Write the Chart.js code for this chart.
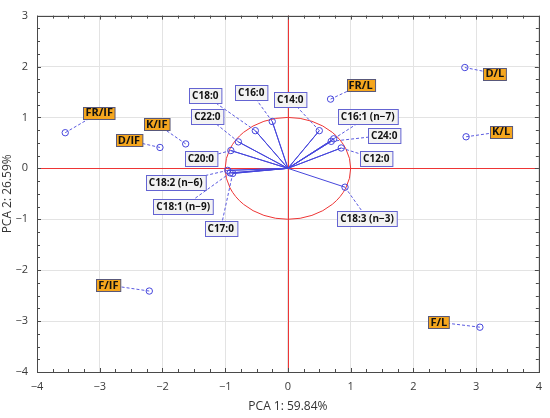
<!DOCTYPE html>
<html>
<head>
<meta charset="utf-8">
<script src="https://cdn.jsdelivr.net/npm/chart.js@4/dist/chart.umd.min.js"></script>
<style>
  body { margin: 0; background: #fff; }
  #wrap { width: 550px; height: 418px; }
</style>
</head>
<body>
<div id="wrap"><canvas id="pca" width="550" height="418"></canvas></div>
<script>
// case scores
const scoreNames = ['FR/IF', 'K/IF', 'D/IF', 'F/IF', 'FR/L', 'D/L', 'K/L', 'F/L'];
const scoreX = [-3.55, -1.63, -2.04, -2.21, 0.68, 2.82, 2.84, 3.06];
const scoreY = [0.70, 0.48, 0.41, -2.41, 1.36, 1.98, 0.62, -3.12];

// variable loadings
const varNames = ['C18:0', 'C16:0', 'C14:0', 'C22:0', 'C20:0', 'C16:1 (n\u22127)', 'C24:0', 'C12:0',
  'C18:2 (n\u22126)', 'C18:1 (n\u22129)', 'C17:0', 'C18:3 (n\u22123)'];
const varX = [-0.52, -0.25, 0.50, -0.79, -0.91, 0.73, 0.69, 0.85, -0.96, -0.92, -0.88, 0.91];
const varY = [0.74, 0.92, 0.74, 0.52, 0.35, 0.58, 0.53, 0.40, -0.04, -0.09, -0.10, -0.37];

const xTicks = [-4, -3, -2, -1, 0, 1, 2, 3, 4];
const yTicks = [-4, -3, -2, -1, 0, 1, 2, 3];
const xTitle = 'PCA 1: 59.84%';
const yTitle = 'PCA 2: 26.59%';

// label placement, pixel offsets from the marker
const scoreOffsets = [[34, -20], [-29, -20], [-31, -7], [-41, -6], [30, -14], [30, 6], [35, -5], [-41, -5]];
const varOffsets = [[-50, -35], [-21, -29], [-29, -31], [-31, -25], [-30, 8], [34, -22], [53, -6], [35, 11],
  [-52, 12], [-47, 34], [-12, 55], [22, 31]];

const BLUE = '#4646dc';
const RED = '#ee3535';

function minusFmt(v) {
  return v < 0 ? '\u2212' + Math.abs(v) : String(v);
}

let scorePts = scoreX.map((x, i) => ({ x: x, y: scoreY[i] }));
let varPts = varX.map((x, i) => ({ x: x, y: varY[i] }));
let spokes = [];
varPts.forEach(p => { spokes.push({ x: 0, y: 0 }); spokes.push(p); });

// zero axes and the unit correlation circle
const circlePlugin = {
  id: 'circle',
  beforeDatasetsDraw(chart) {
    const sx = chart.scales.x, sy = chart.scales.y, c = chart.ctx, a = chart.chartArea;
    let cx = sx.getPixelForValue(0), cy = sy.getPixelForValue(0);
    let rx = sx.getPixelForValue(1) - cx, ry = cy - sy.getPixelForValue(1);
    c.save();
    c.strokeStyle = RED;
    c.lineWidth = 1;
    c.beginPath();
    c.moveTo(Math.round(cx) + 0.5, a.top);
    c.lineTo(Math.round(cx) + 0.5, a.bottom);
    c.moveTo(a.left, Math.round(cy) + 0.5);
    c.lineTo(a.right, Math.round(cy) + 0.5);
    c.stroke();
    c.beginPath();
    c.ellipse(cx, cy, rx, ry, 0, 0, Math.PI * 2);
    c.stroke();
    c.restore();
  }
};

function drawLabel(c, text, px, py, off, kind) {
  let lx = px + off[0], ly = py + off[1];
  c.save();
  c.strokeStyle = '#5a5ae0';
  c.lineWidth = 1;
  c.setLineDash([3, 2]);
  c.beginPath();
  c.moveTo(px, py);
  c.lineTo(lx, ly);
  c.stroke();
  c.setLineDash([]);
  let padX, padY, fs;
  if (kind == 'score') {
    fs = 11; padX = 2; padY = 0.5;
    c.font = 'bold 11px "Open Sans"';
  } else {
    fs = 10; padX = 3; padY = 2.5;
    c.font = 'bold 10px "Open Sans"';
  }
  let w = c.measureText(text).width + padX * 2;
  let h = fs + padY * 2;
  let x0 = Math.round(lx - w / 2) + 0.5, y0 = Math.round(ly - h / 2) + 0.5;
  c.fillStyle = kind == 'score' ? '#f5a61e' : '#f3f3f3';
  c.fillRect(x0, y0, w, h);
  c.strokeStyle = kind == 'score' ? '#58587a' : '#6464d2';
  c.strokeRect(x0, y0, w, h);
  c.fillStyle = '#111';
  c.textAlign = 'center';
  c.textBaseline = 'middle';
  c.fillText(text, lx, ly + 0.5);
  c.restore();
}

const labelPlugin = {
  id: 'labels',
  afterDatasetsDraw(chart) {
    const sx = chart.scales.x, sy = chart.scales.y, c = chart.ctx;
    varPts.forEach((p, i) => {
      drawLabel(c, varNames[i], sx.getPixelForValue(p.x), sy.getPixelForValue(p.y), varOffsets[i], 'var');
    });
    scorePts.forEach((p, i) => {
      drawLabel(c, scoreNames[i], sx.getPixelForValue(p.x), sy.getPixelForValue(p.y), scoreOffsets[i], 'score');
    });
  }
};

const framePlugin = {
  id: 'frame',
  afterDraw(chart) {
    const a = chart.chartArea, sx = chart.scales.x, sy = chart.scales.y, c = chart.ctx;
    c.save();
    c.strokeStyle = '#4a4a4a';
    c.lineWidth = 1;
    c.strokeRect(Math.round(a.left) + 0.5, Math.round(a.top) + 0.5,
      Math.round(a.right - a.left), Math.round(a.bottom - a.top));
    c.beginPath();
    for (let k = 0; k <= (sx.max - sx.min) * 4; k++) {
      let v = sx.min + k * 0.25;
      let x = Math.round(sx.getPixelForValue(v)) + 0.5;
      let len = k % 4 == 0 ? 4 : 3;
      c.moveTo(x, a.top); c.lineTo(x, a.top + len);
      c.moveTo(x, a.bottom); c.lineTo(x, a.bottom - len);
    }
    for (let k = 0; k <= (sy.max - sy.min) * 4; k++) {
      let v = sy.min + k * 0.25;
      let y = Math.round(sy.getPixelForValue(v)) + 0.5;
      let len = k % 4 == 0 ? 4 : 3;
      c.moveTo(a.left, y); c.lineTo(a.left + len, y);
      c.moveTo(a.right, y); c.lineTo(a.right - len, y);
    }
    c.stroke();
    c.restore();
  }
};

new Chart(document.getElementById('pca'), {
  type: 'scatter',
  data: {
    datasets: [
      {
        type: 'line',
        data: spokes,
        showLine: true,
        borderColor: BLUE,
        borderWidth: 1,
        pointRadius: ctx => ctx.dataIndex % 2 == 0 ? 0 : 3.2,
        pointBorderColor: BLUE,
        pointBackgroundColor: 'rgba(255,255,255,0)',
        pointBorderWidth: 1,
        fill: false
      },
      {
        data: scorePts,
        pointRadius: 3.2,
        pointBorderColor: BLUE,
        pointBackgroundColor: 'rgba(255,255,255,0)',
        pointBorderWidth: 1
      }
    ]
  },
  options: {
    responsive: false,
    animation: false,
    layout: { padding: { top: 10, right: 9, left: 0, bottom: 0 } },
    plugins: {
      legend: { display: false },
      tooltip: { enabled: false }
    },
    scales: {
      x: {
        type: 'linear',
        min: xTicks[0],
        max: xTicks[xTicks.length - 1],
        afterBuildTicks: s => { s.ticks = xTicks.map(v => ({ value: v })); },
        afterFit: s => { s.height = 46; },
        grid: { color: '#e3e3e3', drawTicks: false },
        border: { display: false },
        ticks: { padding: 8, color: '#3a3a3a', font: { family: 'Open Sans', size: 11 }, callback: minusFmt },
        title: { display: true, text: xTitle, color: '#333', font: { family: 'Open Sans', size: 12 }, padding: { top: 8 } }
      },
      y: {
        type: 'linear',
        min: yTicks[0],
        max: yTicks[yTicks.length - 1],
        afterBuildTicks: s => { s.ticks = yTicks.map(v => ({ value: v })); },
        afterFit: s => { s.width = 37; },
        grid: { color: '#e3e3e3', drawTicks: false },
        border: { display: false },
        ticks: { padding: 9, color: '#3a3a3a', font: { family: 'Open Sans', size: 11 }, callback: minusFmt },
        title: { display: true, text: yTitle, color: '#333', font: { family: 'Open Sans', size: 12 }, padding: 0 }
      }
    }
  },
  plugins: [circlePlugin, labelPlugin, framePlugin]
});
</script>
</body>
</html>
